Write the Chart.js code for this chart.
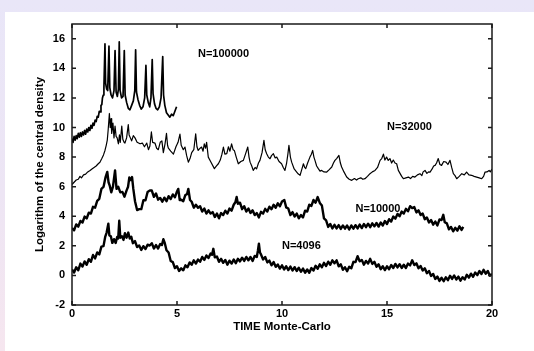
<!DOCTYPE html>
<html>
<head>
<meta charset="utf-8">
<script src="https://cdn.jsdelivr.net/npm/chart.js@4"></script>
<style>
html,body{margin:0;padding:0;}
body{width:534px;height:351px;overflow:hidden;position:relative;
  background:linear-gradient(to bottom,#e9e6f8 0%,#ede5f4 55%,#f6e6ef 100%);}
#sheet{position:absolute;left:5px;top:12px;right:0;bottom:0;background:#fff;}
#chart{position:absolute;left:0;top:0;}
</style>
</head>
<body>
<div id="sheet"></div>
<canvas id="chart" width="534" height="351"></canvas>
<script>
// values (time in Monte-Carlo units, log central density)
const t4096 = [0,0.1,0.2,0.3,0.4,0.5,0.6,0.7,0.8,0.9,
  1.0,1.1,1.2,1.3,1.4,1.5,1.58,1.65,1.73,1.78,
  1.85,1.92,2.0,2.08,2.15,2.2,2.25,2.3,2.38,2.45,
  2.52,2.6,2.68,2.75,2.82,2.9,3.0,3.1,3.2,3.3,
  3.4,3.5,3.6,3.7,3.8,3.9,4.0,4.1,4.2,4.28,
  4.35,4.42,4.5,4.6,4.7,4.8,4.9,5.0,5.1,5.2,
  5.3,5.4,5.5,5.6,5.7,5.8,5.9,6.0,6.1,6.2,
  6.3,6.4,6.5,6.6,6.67,6.73,6.8,6.9,7.0,7.1,
  7.2,7.3,7.4,7.5,7.6,7.7,7.8,7.9,8.0,8.1,
  8.2,8.3,8.4,8.5,8.6,8.7,8.8,8.85,8.9,8.95,
  9.0,9.1,9.2,9.3,9.4,9.5,9.6,9.7,9.8,9.9,
  10.0,10.1,10.2,10.3,10.4,10.5,10.6,10.7,10.8,10.9,
  11.0,11.1,11.2,11.3,11.4,11.5,11.6,11.7,11.8,11.9,
  12.0,12.1,12.2,12.3,12.4,12.5,12.6,12.7,12.8,12.9,
  13.0,13.1,13.2,13.3,13.4,13.5,13.6,13.7,13.8,13.9,
  14.0,14.1,14.2,14.3,14.4,14.5,14.6,14.7,14.8,14.9,
  15.0,15.1,15.2,15.3,15.4,15.5,15.6,15.7,15.8,15.9,
  16.0,16.1,16.2,16.3,16.4,16.5,16.6,16.7,16.8,16.9,
  17.0,17.1,17.2,17.3,17.4,17.5,17.6,17.7,17.8,17.9,
  18.0,18.1,18.2,18.3,18.4,18.5,18.6,18.7,18.8,18.9,
  19.0,19.1,19.2,19.3,19.4,19.5,19.6,19.7,19.8,19.9,
  20.0];
const d4096 = [0.4,0.2,0.55,0.35,0.8,0.6,0.95,0.72,1.1,0.92,
  1.38,1.15,1.55,1.42,1.95,1.98,2.6,2.9,3.5,2.7,
  2.65,2.2,2.45,2.2,2.6,2.5,3.7,2.55,2.65,2.4,
  2.85,2.55,2.9,2.5,2.62,2.18,2.32,1.92,2.02,1.72,
  1.98,1.78,2.08,2.02,2.18,1.82,2.05,1.82,2.12,2.05,
  2.45,2.18,1.7,1.55,0.98,0.9,0.5,0.62,0.3,0.48,
  0.35,0.68,0.55,0.88,0.72,1.02,0.8,1.08,0.92,1.25,
  1.05,1.35,1.18,1.48,1.4,1.8,1.22,1.28,0.92,1.12,
  0.85,1.05,0.72,1.0,0.8,1.08,0.82,1.12,0.95,1.2,
  0.98,1.25,1.02,1.25,0.98,1.32,1.25,1.65,2.15,1.55,
  1.42,1.08,1.25,0.88,1.0,0.68,0.9,0.58,0.74,0.46,
  0.68,0.4,0.62,0.36,0.6,0.33,0.56,0.3,0.52,0.25,
  0.46,0.18,0.4,0.18,0.5,0.33,0.65,0.45,0.75,0.55,
  0.85,0.64,0.93,0.72,1.02,0.82,1.02,0.62,0.75,0.38,
  0.55,0.28,0.58,0.48,0.92,0.9,1.3,0.95,1.05,0.72,
  0.98,0.8,1.12,0.78,0.92,0.58,0.75,0.42,0.62,0.36,
  0.62,0.42,0.7,0.5,0.78,0.54,0.76,0.5,0.72,0.5,
  0.8,0.68,1.02,0.7,0.82,0.48,0.64,0.33,0.48,0.15,
  0.3,-0.04,0.1,-0.24,-0.08,-0.37,-0.16,-0.39,-0.12,-0.32,
  -0.02,-0.24,0.0,-0.28,-0.08,-0.36,-0.12,-0.28,0.04,-0.15,
  0.12,-0.09,0.2,0.02,0.3,0.1,0.38,0.12,0.3,-0.02,
  0.1];

const t10000 = [0,0.1,0.2,0.3,0.4,0.5,0.6,0.7,0.8,0.9,
  1.0,1.1,1.2,1.3,1.4,1.5,1.6,1.68,1.74,1.8,
  1.87,1.95,2.05,2.12,2.2,2.3,2.4,2.5,2.6,2.67,
  2.73,2.8,2.86,2.92,3.0,3.1,3.2,3.3,3.4,3.5,
  3.6,3.71,3.8,3.9,4.0,4.1,4.2,4.3,4.4,4.5,
  4.6,4.7,4.8,4.9,5.0,5.06,5.13,5.2,5.3,5.4,
  5.48,5.54,5.62,5.7,5.8,5.9,6.0,6.1,6.2,6.3,
  6.4,6.5,6.6,6.7,6.8,6.9,7.0,7.1,7.2,7.3,
  7.4,7.5,7.6,7.7,7.78,7.84,7.9,8.0,8.1,8.2,
  8.3,8.4,8.5,8.6,8.7,8.8,8.9,9.0,9.1,9.2,
  9.3,9.4,9.5,9.6,9.7,9.8,9.9,10.0,10.11,10.2,
  10.3,10.4,10.5,10.6,10.7,10.8,10.9,11.0,11.1,11.2,
  11.3,11.4,11.5,11.6,11.7,11.8,11.9,12.0,12.1,12.2,
  12.3,12.4,12.5,12.6,12.7,12.8,12.9,13.0,13.1,13.2,
  13.3,13.4,13.5,13.6,13.7,13.8,13.9,14.0,14.1,14.2,
  14.3,14.4,14.5,14.6,14.7,14.8,14.9,15.0,15.1,15.2,
  15.3,15.4,15.5,15.6,15.7,15.8,15.9,16.0,16.1,16.2,
  16.3,16.4,16.5,16.6,16.7,16.8,16.9,17.0,17.1,17.2,
  17.3,17.4,17.5,17.6,17.68,17.75,17.85,17.95,18.05,18.15,
  18.25,18.35,18.45,18.55,18.63];
const d10000 = [3.2,3.05,3.45,3.3,3.68,3.58,3.98,3.85,4.24,4.18,
  4.64,4.58,5.04,5.18,5.85,5.98,6.65,7.0,6.3,6.05,
  5.62,6.0,7.1,5.85,6.0,5.62,5.65,5.32,5.75,6.0,
  6.62,6.45,6.65,5.85,5.02,4.42,4.48,4.48,5.08,5.08,
  5.64,5.75,5.74,5.32,5.54,5.12,5.24,4.98,5.26,5.02,
  5.36,5.16,5.48,5.28,5.68,5.85,5.1,5.12,5.02,5.44,
  5.5,5.85,5.1,4.98,4.58,4.78,4.58,4.68,4.32,4.52,
  4.18,4.4,4.18,4.28,3.95,4.18,3.86,4.22,4.08,4.38,
  4.18,4.52,4.38,4.78,4.95,5.3,4.85,4.92,4.48,4.68,
  4.32,4.52,4.22,4.4,4.08,4.22,3.92,4.3,4.18,4.5,
  4.32,4.65,4.48,4.78,4.58,4.88,4.68,5.0,5.1,4.6,
  4.52,4.08,4.28,3.98,4.18,3.86,4.08,3.92,4.38,4.32,
  4.78,4.7,5.1,4.92,5.3,4.9,4.72,3.85,3.72,3.28,
  3.48,3.18,3.42,3.18,3.4,3.14,3.38,3.16,3.38,3.1,
  3.38,3.16,3.4,3.18,3.44,3.2,3.48,3.26,3.5,3.26,
  3.52,3.32,3.55,3.3,3.58,3.38,3.68,3.48,3.8,3.64,
  3.98,3.84,4.16,4.0,4.32,4.18,4.5,4.34,4.68,4.55,
  4.62,4.26,4.4,4.08,4.18,3.8,3.92,3.58,3.74,3.43,
  3.64,3.38,3.78,3.75,4.1,3.6,3.52,3.12,3.28,2.98,
  3.22,3.03,3.32,3.08,3.28];

const t32000 = [0,0.1,0.2,0.3,0.38,0.45,0.55,0.65,0.75,0.86,
  0.95,1.05,1.15,1.25,1.33,1.42,1.5,1.57,1.63,1.68,
  1.72,1.78,1.82,1.86,1.89,1.95,2.0,2.05,2.1,2.15,
  2.21,2.26,2.3,2.37,2.42,2.48,2.52,2.6,2.68,2.72,
  2.78,2.84,2.92,3.0,3.1,3.24,3.35,3.45,3.56,3.64,
  3.71,3.78,3.84,3.95,4.03,4.11,4.2,4.28,4.35,4.43,
  4.5,4.55,4.59,4.7,4.83,4.95,5.05,5.14,5.2,5.3,
  5.38,5.46,5.54,5.62,5.7,5.8,5.89,5.95,6.01,6.1,
  6.17,6.24,6.3,6.36,6.41,6.49,6.6,6.78,6.88,6.97,
  7.06,7.14,7.21,7.28,7.37,7.45,7.52,7.6,7.67,7.73,
  7.82,7.92,8.04,8.16,8.26,8.37,8.43,8.48,8.56,8.63,
  8.72,8.79,8.88,8.95,9.05,9.14,9.2,9.27,9.35,9.43,
  9.5,9.59,9.67,9.75,9.86,9.98,10.06,10.14,10.22,10.28,
  10.33,10.4,10.46,10.58,10.7,10.78,10.86,10.95,11.02,11.08,
  11.13,11.22,11.33,11.4,11.46,11.52,11.57,11.65,11.73,11.81,
  11.89,12.0,12.13,12.25,12.37,12.45,12.52,12.6,12.71,12.78,
  12.84,12.95,13.08,13.2,13.32,13.45,13.55,13.63,13.75,13.85,
  13.95,14.07,14.19,14.3,14.43,14.55,14.67,14.75,14.83,14.9,
  14.98,15.06,15.14,15.22,15.3,15.38,15.46,15.54,15.62,15.7,
  15.78,15.9,16.02,16.12,16.22,16.33,16.45,16.57,16.66,16.72,
  16.81,16.9,16.98,17.05,17.15,17.22,17.29,17.36,17.44,17.52,
  17.6,17.7,17.81,17.9,18.0,18.08,18.16,18.24,18.32,18.44,
  18.56,18.68,18.79,18.9,19.03,19.15,19.27,19.39,19.51,19.6,
  19.67,19.76,19.86,19.92,20.0];
const d32000 = [6.15,6.3,6.45,6.5,6.7,6.6,6.8,6.85,7.0,7.1,
  7.2,7.3,7.4,7.55,7.65,7.9,8.15,8.45,8.8,9.15,
  9.8,10.95,10.0,10.6,9.6,10.3,9.3,10.1,9.4,9.3,
  8.9,9.5,9.0,10.1,9.2,9.0,8.95,9.3,10.2,9.5,
  9.3,9.1,9.45,9.3,9.0,8.9,8.95,8.7,8.95,8.5,
  8.75,9.7,9.0,8.95,8.6,8.5,9.0,9.1,8.3,8.9,
  9.6,8.8,8.6,8.4,8.2,8.7,9.0,9.55,8.8,8.5,
  8.68,8.1,7.66,7.9,8.3,8.5,9.58,8.7,8.45,8.6,
  8.68,8.4,8.9,8.6,9.0,8.0,7.7,7.22,7.4,7.55,
  7.8,8.2,8.68,8.2,8.23,8.7,8.4,8.9,8.5,8.45,
  8.0,7.55,7.7,7.78,8.2,8.68,8.0,7.66,7.4,7.1,
  7.3,7.2,7.6,7.78,8.3,9.13,8.5,8.23,8.0,7.89,
  8.1,8.23,7.95,8.0,7.7,7.55,7.3,7.1,7.6,8.2,
  8.79,8.0,7.66,7.2,6.99,6.85,6.77,7.2,7.55,7.3,
  7.22,7.6,8.0,8.2,8.45,8.0,7.78,7.4,7.22,7.05,
  7.1,7.0,6.99,7.15,7.33,7.6,7.78,7.9,8.11,7.6,
  7.33,7.0,6.65,6.5,6.43,6.55,6.45,6.54,6.6,6.5,
  6.54,6.7,6.88,7.0,7.1,7.3,7.78,7.9,8.2,7.8,
  8.0,7.78,7.9,7.6,7.8,7.6,7.55,7.1,6.9,6.7,
  6.54,6.6,6.65,6.55,6.7,6.65,6.8,6.88,6.75,7.0,
  7.1,6.9,7.0,6.99,7.2,7.4,7.44,7.6,7.9,7.5,
  7.44,7.7,7.66,7.5,7.78,7.3,6.88,6.75,6.54,6.7,
  6.88,6.8,6.99,6.8,6.77,6.7,6.65,6.6,6.54,6.7,
  6.99,7.0,7.1,7.0,7.2];

const t100000 = [0,0.05,0.1,0.15,0.2,0.25,0.3,0.35,0.4,0.45,
  0.5,0.55,0.6,0.65,0.7,0.75,0.8,0.85,0.9,0.95,
  1.0,1.05,1.1,1.15,1.2,1.25,1.3,1.34,1.38,1.42,
  1.45,1.49,1.52,1.57,1.6,1.65,1.7,1.76,1.8,1.86,
  1.93,2.0,2.05,2.1,2.16,2.21,2.25,2.29,2.36,2.43,
  2.49,2.53,2.6,2.68,2.76,2.84,2.92,2.99,3.03,3.07,
  3.14,3.22,3.3,3.38,3.46,3.52,3.56,3.63,3.7,3.76,
  3.82,3.86,3.93,4.0,4.08,4.16,4.24,4.32,4.36,4.42,
  4.5,4.58,4.66,4.74,4.82,4.9,4.98];
const d100000 = [9.25,9.0,9.4,9.15,9.45,9.25,9.6,9.35,9.65,9.4,
  9.7,9.5,9.8,9.55,9.9,9.7,10.0,9.8,10.15,9.95,
  10.3,10.15,10.5,10.4,10.75,10.7,11.1,11.05,11.5,11.55,
  12.0,12.2,12.7,15.65,13.0,12.6,12.5,15.5,12.7,12.2,
  12.0,12.5,15.2,12.4,12.1,12.6,15.8,12.5,12.0,12.1,
  15.2,12.2,11.7,11.3,11.2,11.5,11.8,12.5,15.25,12.4,
  11.9,11.5,11.25,11.4,12.0,14.2,12.2,11.7,11.4,12.0,
  14.6,12.3,11.6,11.3,11.2,11.4,12.0,14.8,12.2,11.5,
  11.0,10.85,10.7,10.9,10.8,11.1,11.4];

// curve names and where they are written (data units)
const curveNames = ["N=100000", "N=32000", "N=10000", "N=4096"];
const nameTime = [6.0, 15.0, 13.5, 10.0];
const nameDens = [15.0, 10.05, 4.5, 2.0];

function pairs(ts, ds) {
  var out = [];
  for (var i = 0; i < Math.min(ts.length, ds.length); i++) out.push({x: ts[i], y: ds[i]});
  return out;
}

const boldFont = '"Liberation Sans", Arial, Helvetica, sans-serif';

const framePlugin = {
  id: 'frame',
  afterDatasetsDraw(chart) {
    const ctx = chart.ctx;
    const a = chart.chartArea;
    const xs = chart.scales.x, ys = chart.scales.y;
    ctx.save();
    ctx.strokeStyle = '#1a1a1a';
    ctx.lineWidth = 1.5;
    ctx.strokeRect(a.left, a.top, a.right - a.left, a.bottom - a.top);
    ctx.beginPath();
    xs.ticks.forEach(function (t) {
      var px = xs.getPixelForValue(t.value);
      ctx.moveTo(px, a.bottom); ctx.lineTo(px, a.bottom - 4);
      ctx.moveTo(px, a.top); ctx.lineTo(px, a.top + 4);
    });
    ys.ticks.forEach(function (t) {
      var py = ys.getPixelForValue(t.value);
      ctx.moveTo(a.left, py); ctx.lineTo(a.left + 4, py);
      ctx.moveTo(a.right, py); ctx.lineTo(a.right - 4, py);
    });
    ctx.stroke();

    ctx.font = 'bold 11px ' + boldFont;
    ctx.fillStyle = '#000';
    ctx.textBaseline = 'middle';
    ctx.textAlign = 'left';
    curveNames.forEach(function (s, i) {
      ctx.fillText(s, xs.getPixelForValue(nameTime[i]), ys.getPixelForValue(nameDens[i]));
    });
    ctx.restore();
  }
};

function curve(ts, ds, w) {
  return {
    data: pairs(ts, ds),
    borderColor: '#000',
    borderWidth: w,
    borderJoinStyle: 'round',
    pointRadius: 0,
    tension: 0,
    fill: false
  };
}

new Chart(document.getElementById('chart'), {
  type: 'line',
  data: {
    datasets: [
      curve(t4096, d4096, 2.4),
      curve(t10000, d10000, 2.4),
      curve(t32000, d32000, 1.2),
      curve(t100000, d100000, 1.7)
    ]
  },
  options: {
    responsive: false,
    animation: false,
    layout: {padding: {left: 0, top: 24, right: 42, bottom: 0}},
    plugins: {legend: {display: false}, tooltip: {enabled: false}},
    scales: {
      x: {
        type: 'linear', min: 0, max: 20,
        grid: {display: false, drawTicks: false},
        border: {display: false},
        ticks: {stepSize: 5, padding: 2, color: '#000', font: {family: boldFont, size: 11, weight: 'bold'}},
        title: {display: true, text: 'TIME Monte-Carlo', color: '#000',
                font: {family: boldFont, size: 11.5, weight: 'bold'}, padding: {top: 0, bottom: 17}},
        afterFit: function (s) { s.height = 46; }
      },
      y: {
        type: 'linear', min: -2, max: 17,
        grid: {display: false, drawTicks: false},
        border: {display: false},
        ticks: {stepSize: 2, padding: 7, color: '#000', font: {family: boldFont, size: 11, weight: 'bold'}},
        afterBuildTicks: function (s) { s.ticks = s.ticks.filter(function (t) { return t.value % 2 === 0; }); },
        title: {display: true, text: 'Logarithm of the central density', color: '#000',
                font: {family: boldFont, size: 11.5, weight: 'bold'}, padding: {top: 33, bottom: 0}},
        afterFit: function (s) { s.width = 72; }
      }
    }
  },
  plugins: [framePlugin]
});
</script>
</body>
</html>
